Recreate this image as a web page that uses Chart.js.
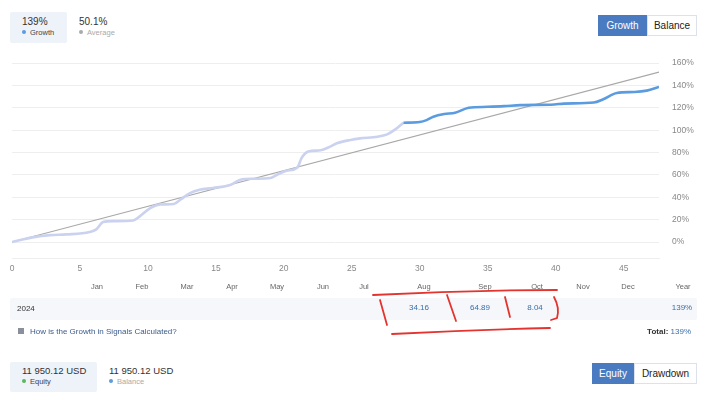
<!DOCTYPE html>
<html lang="en">
<head>
<meta charset="UTF-8">
<title>Growth</title>
<script src="https://cdn.jsdelivr.net/npm/chart.js@4.4.0/dist/chart.umd.min.js"></script>
<style>
  body { margin:0; width:707px; height:400px; background:#fff; position:relative; overflow:hidden;
         font-family:"Liberation Sans", Arial, sans-serif; color:#333; }
  .a { position:absolute; white-space:nowrap; line-height:1; }
  .box { position:absolute; background:#eef2f9; border-radius:2px; }
  .dot { display:inline-block; width:4px; height:4px; border-radius:50%; margin-right:4px; vertical-align:1px; }
  .btn { position:absolute; font-size:10px; text-align:center; box-sizing:border-box; }
  .on { background:#4a7bc0; color:#fff; }
  .off { background:#fff; color:#222; border:1px solid #dde2ea; }
  .mon { font-size:7.5px; color:#666; transform:translateX(-50%); top:283px; }
  .val { font-size:8px; color:#3a6ea8; transform:translateX(-50%); top:304px; }
  #wrap { position:absolute; left:0; top:45px; width:707px; height:238px; }
  #wrap canvas { display:block; }
</style>
</head>
<body>
  <!-- top legend -->
  <div class="box" style="left:10px;top:12px;width:57px;height:31px"></div>
  <div class="a" style="left:22px;top:17px;font-size:10px">139%</div>
  <div class="a" style="left:22px;top:29px;font-size:7.5px;color:#444"><span class="dot" style="background:#5b9be0"></span>Growth</div>
  <div class="a" style="left:79px;top:17px;font-size:10px">50.1%</div>
  <div class="a" style="left:79px;top:29px;font-size:7.5px;color:#aaa"><span class="dot" style="background:#aaa"></span>Average</div>

  <div class="btn on" style="left:598px;top:15px;width:49px;height:21px;line-height:21px">Growth</div>
  <div class="btn off" style="left:647px;top:15px;width:50px;height:21px;line-height:19px">Balance</div>

  <div id="wrap"><canvas id="growthChart" width="707" height="238"></canvas></div>

  <!-- month table -->
  <div id="months"></div>
  <div class="box" style="left:10px;top:298px;width:687px;height:22px;background:#f5f7fa"></div>
  <div class="a" style="left:17px;top:305px;font-size:8px">2024</div>
  <div id="vals"></div>
  <div class="a" style="left:18px;top:328px;width:6px;height:6px;background:#8a8f99"></div>
  <div class="a" style="left:30px;top:328px;font-size:8px;color:#3b5b8c">How is the Growth in Signals Calculated?</div>
  <div class="a" style="right:16px;top:328px;font-size:8px"><b>Total:</b> <span style="color:#3a6ea8">139%</span></div>

  <!-- bottom legend -->
  <div class="box" style="left:10px;top:362px;width:87px;height:30px"></div>
  <div class="a" style="left:22px;top:366px;font-size:9.5px">11 950.12 USD</div>
  <div class="a" style="left:22px;top:378px;font-size:7.5px;color:#444"><span class="dot" style="background:#5cb85c"></span>Equity</div>
  <div class="a" style="left:109px;top:366px;font-size:9.5px">11 950.12 USD</div>
  <div class="a" style="left:109px;top:378px;font-size:7.5px;color:#aaa"><span class="dot" style="background:#5b9be0"></span>Balance</div>
  <div class="btn on" style="left:592px;top:363px;width:42px;height:21px;line-height:21px">Equity</div>
  <div class="btn off" style="left:634px;top:363px;width:63px;height:21px;line-height:19px">Drawdown</div>

  <!-- hand-drawn marks -->
  <svg class="a" style="left:0;top:0" width="707" height="400" fill="none" stroke="#e3342f" stroke-width="1.8" stroke-linecap="round">
    <path d="M373 295 Q465 290 557 290"/>
    <path d="M380 300 L387 325"/>
    <path d="M447 295 L456 321"/>
    <path d="M505 297 L510 317"/>
    <path d="M554 297 Q560 308 557 318 L551 320"/>
    <path d="M392 334 Q470 330 550 328"/>
  </svg>

<script>
// growth (%) by week, before and after the signal start
var preWeeks  = [0, 1.6, 2.8, 4.0, 5.7, 6.2, 6.7, 7.5, 8.9, 9.4, 10.2, 10.9, 11.9, 12.4, 13.1, 13.8, 14.8, 16.1,
                 16.8, 17.8, 19.0, 19.5, 20.2, 21.0, 21.3, 21.8, 22.7, 23.4, 23.9, 24.9, 25.6, 26.9, 27.6, 28.2, 28.8];
var preGrowth = [0, 4.4, 6.2, 6.8, 8.9, 11.3, 17.8, 18.7, 19.3, 23, 30.5, 33.5, 34, 38, 43.8, 46.8, 48.3, 51.3,
                 55.7, 56.6, 57.2, 60.2, 63.7, 66.7, 75, 80.9, 82, 85.3, 88.3, 91.3, 92.7, 94.2, 96.3, 100.7, 106.7];
var postWeeks  = [28.8, 30.0, 30.5, 31.0, 31.8, 32.6, 33.6, 35.0, 36.2, 37.4, 39.9, 40.6, 42.8, 43.5, 44.5, 45.8, 46.7, 47.6];
var postGrowth = [106.7, 107.3, 109, 112, 114.4, 115.6, 120, 120.9, 121.5, 122.4, 123, 123.8, 124.7, 127.7, 133.3, 134.2, 135.4, 138.7];
var avgWeeks  = [0, 47.6];
var avgGrowth = [0, 152];

var months     = ['Jan','Feb','Mar','Apr','May','Jun','Jul','Aug','Sep','Oct','Nov','Dec','Year'];
var monthX     = [97, 142, 187, 232, 277, 323, 364, 424, 485, 537, 583, 628, 683];
var monthVals  = ['', '', '', '', '', '', '', '34.16', '64.89', '8.04', '', '', '139%'];
var valX       = [0, 0, 0, 0, 0, 0, 0, 419, 480, 535, 0, 0, 682];

var mHtml = '', vHtml = '';
for (var i = 0; i < months.length; i++) {
    mHtml += '<div class="a mon" style="left:' + monthX[i] + 'px">' + months[i] + '</div>';
    if (monthVals[i]) vHtml += '<div class="a val" style="left:' + valX[i] + 'px">' + monthVals[i] + '</div>';
}
document.getElementById('months').innerHTML = mHtml;
document.getElementById('vals').innerHTML = vHtml;

function pts(xs, ys) {
    return xs.map(function (x, i) { return {x: x, y: ys[i]}; });
}

new Chart(document.getElementById('growthChart'), {
    type: 'line',
    data: {
        datasets: [{
            data: pts(postWeeks, postGrowth),
            borderColor: '#5b9be0', borderWidth: 2.6, order: 1
        }, {
            data: pts(preWeeks, preGrowth),
            borderColor: '#cad2f0', borderWidth: 2.6, order: 2
        }, {
            data: pts(avgWeeks, avgGrowth),
            borderColor: '#a8a8a8', borderWidth: 1.2, order: 3
        }]
    },
    options: {
        responsive: false,
        animation: false,
        events: [],
        layout: { padding: { top: 6, left: 12, right: 0, bottom: 4 } },
        elements: { point: { radius: 0 }, line: { cubicInterpolationMode: 'monotone' } },
        plugins: { legend: { display: false }, tooltip: { enabled: false } },
        scales: {
            x: {
                type: 'linear', min: 0, max: 47.6,
                grid: { display: false, drawTicks: false },
                border: { display: true, color: '#eeeeee' },
                ticks: { stepSize: 5, includeBounds: false, padding: 5, color: '#888',
                         font: { family: 'Liberation Sans', size: 8.5 } }
            },
            y: {
                position: 'right', min: -15, max: 160,
                afterFit: function (s) { s.width = 48; },
                grid: { color: '#eeeeee', drawTicks: false },
                border: { display: false },
                ticks: { stepSize: 20, includeBounds: false, padding: 13, color: '#888',
                         font: { family: 'Liberation Sans', size: 8.5 },
                         callback: function (v) { return v + '%'; } }
            }
        }
    }
});
</script>
</body>
</html>
